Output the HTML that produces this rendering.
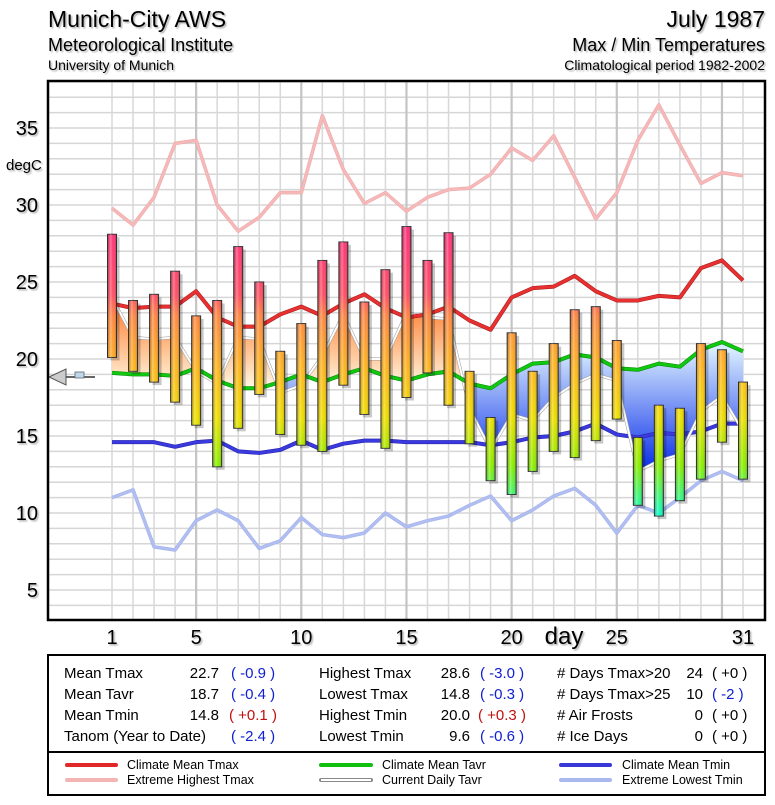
<!DOCTYPE html>
<html><head><meta charset="utf-8"><style>
body{margin:0;background:#fff;width:775px;height:800px;overflow:hidden;font-family:"Liberation Sans",Arial,sans-serif;}
svg text{font-family:"Liberation Sans",Arial,sans-serif;}
</style></head><body>
<svg id="chart" width="775" height="800" xmlns="http://www.w3.org/2000/svg">
<defs>
<filter id="ts" x="-10%" y="-10%" width="130%" height="140%"><feDropShadow dx="1.5" dy="1.5" stdDeviation="0.8" flood-color="#000" flood-opacity="0.3"/></filter>
<linearGradient id="barColor" gradientUnits="userSpaceOnUse" x1="0" y1="220" x2="0" y2="520">
<stop offset="0" stop-color="#ff2e7e"/><stop offset="0.25" stop-color="#ff5066"/><stop offset="0.32" stop-color="#ff8844"/><stop offset="0.5" stop-color="#ffb81e"/><stop offset="0.66" stop-color="#eee000"/><stop offset="0.82" stop-color="#88f000"/><stop offset="1" stop-color="#00ffdd"/></linearGradient>
<linearGradient id="barShade" x1="0" y1="0" x2="1" y2="0">
<stop offset="0" stop-color="#000" stop-opacity="0.2"/><stop offset="0.35" stop-color="#fff" stop-opacity="0.3"/><stop offset="0.6" stop-color="#fff" stop-opacity="0"/><stop offset="1" stop-color="#000" stop-opacity="0.25"/></linearGradient>
<linearGradient id="warmFill" gradientUnits="userSpaceOnUse" x1="0" y1="300" x2="0" y2="385">
<stop offset="0" stop-color="#ff7a2a"/><stop offset="1" stop-color="#fff4dc"/></linearGradient>
<linearGradient id="coolFill" gradientUnits="userSpaceOnUse" x1="0" y1="350" x2="0" y2="470">
<stop offset="0" stop-color="#d8ecff"/><stop offset="1" stop-color="#0a2ee8"/></linearGradient>
<clipPath id="aboveClip"><path id="aboveP"/></clipPath>
<clipPath id="belowClip"><path id="belowP"/></clipPath>
</defs>
<g filter="url(#ts)">
<text x="48" y="27" font-size="23">Munich-City AWS</text>
<text x="48" y="51" font-size="18">Meteorological Institute</text>
<text x="48" y="70" font-size="14">University of Munich</text>
<text x="765" y="27" font-size="23" text-anchor="end">July 1987</text>
<text x="765" y="51" font-size="18" text-anchor="end">Max / Min Temperatures</text>
<text x="765" y="70" font-size="14" text-anchor="end">Climatological period 1982-2002</text>
</g>
<g id="grid"></g>
<g id="areas"></g>
<g id="lines"></g>
<g id="bars"></g>
<g id="axes"></g>
<g>
<line x1="60" y1="377" x2="95" y2="377" stroke="#333" stroke-width="1.5"/>
<polygon points="49,377 66,369 66,385" fill="#ccc" stroke="#555" stroke-width="1"/>
<rect x="75" y="372" width="9" height="6" fill="#bcd8ee" stroke="#666" stroke-width="0.8"/>
</g>
<rect x="48" y="81" width="717" height="539" fill="none" stroke="#000" stroke-width="2.5"/>
<g font-size="15">
<rect x="48" y="655" width="717" height="97" fill="none" stroke="#000" stroke-width="2"/>
<rect x="48" y="752" width="717" height="43" fill="none" stroke="#000" stroke-width="2"/>
<text x="64" y="678">Mean Tmax</text><text x="219" y="678" text-anchor="end">22.7</text><text x="231" y="678" fill="#1020d0">( -0.9 )</text>
<text x="64" y="699">Mean Tavr</text><text x="219" y="699" text-anchor="end">18.7</text><text x="231" y="699" fill="#1020d0">( -0.4 )</text>
<text x="64" y="720">Mean Tmin</text><text x="219" y="720" text-anchor="end">14.8</text><text x="229" y="720" fill="#c01010">( +0.1 )</text>
<text x="64" y="741">Tanom (Year to Date)</text><text x="231" y="741" fill="#1020d0">( -2.4 )</text>
<text x="319" y="678">Highest Tmax</text><text x="470" y="678" text-anchor="end">28.6</text><text x="480" y="678" fill="#1020d0">( -3.0 )</text>
<text x="319" y="699">Lowest Tmax</text><text x="470" y="699" text-anchor="end">14.8</text><text x="480" y="699" fill="#1020d0">( -0.3 )</text>
<text x="319" y="720">Highest Tmin</text><text x="470" y="720" text-anchor="end">20.0</text><text x="478" y="720" fill="#c01010">( +0.3 )</text>
<text x="319" y="741">Lowest Tmin</text><text x="470" y="741" text-anchor="end">9.6</text><text x="480" y="741" fill="#1020d0">( -0.6 )</text>
<text x="557" y="678"># Days Tmax&gt;20</text><text x="703" y="678" text-anchor="end">24</text><text x="712" y="678">( +0 )</text>
<text x="557" y="699"># Days Tmax&gt;25</text><text x="703" y="699" text-anchor="end">10</text><text x="712" y="699" fill="#1020d0">( -2 )</text>
<text x="557" y="720"># Air Frosts</text><text x="703" y="720" text-anchor="end">0</text><text x="712" y="720">( +0 )</text>
<text x="557" y="741"># Ice Days</text><text x="703" y="741" text-anchor="end">0</text><text x="712" y="741">( +0 )</text>
</g>
<g font-size="12.5">
<g><line x1="67" y1="765" x2="116" y2="765" stroke="#e02828" stroke-width="4" stroke-linecap="round"/><text x="127" y="769">Climate Mean Tmax</text></g>
<g><line x1="67" y1="780" x2="116" y2="780" stroke="#f4b4b4" stroke-width="4" stroke-linecap="round"/><text x="127" y="784">Extreme Highest Tmax</text></g>
<g><line x1="321" y1="765" x2="371" y2="765" stroke="#10c010" stroke-width="4" stroke-linecap="round"/><text x="382" y="769">Climate Mean Tavr</text></g>
<g><line x1="321" y1="780" x2="371" y2="780" stroke="#888" stroke-width="4" stroke-linecap="round"/><line x1="321" y1="780" x2="371" y2="780" stroke="#fff" stroke-width="2"/><text x="382" y="784">Current Daily Tavr</text></g>
<g><line x1="561" y1="765" x2="610" y2="765" stroke="#3838d8" stroke-width="4" stroke-linecap="round"/><text x="622" y="769">Climate Mean Tmin</text></g>
<g><line x1="561" y1="780" x2="610" y2="780" stroke="#aab8f0" stroke-width="4" stroke-linecap="round"/><text x="622" y="784">Extreme Lowest Tmin</text></g>
</g>
</svg>
<script>
const days = [1,2,3,4,5,6,7,8,9,10,11,12,13,14,15,16,17,18,19,20,21,22,23,24,25,26,27,28,29,30,31];
const tmax = [28.1,23.8,24.2,25.7,22.8,23.8,27.3,25.0,20.5,22.3,26.4,27.6,23.7,25.8,28.6,26.4,28.2,19.2,16.2,21.7,19.2,21.0,23.2,23.4,21.2,14.9,17.0,16.8,21.0,20.6,18.5];
const tmin = [20.1,19.2,18.5,17.2,15.7,13.0,15.5,17.7,15.1,14.4,14.0,18.3,16.4,14.2,17.5,19.1,17.0,14.5,12.1,11.2,12.7,14.0,13.6,14.7,16.1,10.5,9.8,10.8,12.2,14.6,12.2];
const tavr = [24.0,21.4,21.3,21.4,19.2,18.4,21.4,21.3,17.8,18.3,20.2,22.9,20.0,20.0,23.0,22.7,22.6,16.8,14.1,16.4,16.0,17.5,18.4,19.0,18.6,12.7,13.4,13.8,16.6,17.6,15.3];
const climMax = [23.6,23.3,23.4,23.4,24.4,22.7,22.1,22.1,22.9,23.4,22.8,23.6,24.2,23.3,22.7,22.9,23.4,22.5,21.9,24.0,24.6,24.7,25.4,24.4,23.8,23.8,24.1,24.0,25.9,26.4,25.1];
const climAvr = [19.1,19.0,19.0,18.9,19.4,18.6,18.1,18.1,18.5,19.0,18.5,19.0,19.4,18.9,18.6,19.0,19.2,18.4,18.1,19.0,19.7,19.8,20.3,20.1,19.4,19.3,19.7,19.5,20.6,21.1,20.5];
const climMin = [14.6,14.6,14.6,14.3,14.6,14.7,14.0,13.9,14.1,14.7,14.1,14.5,14.7,14.7,14.6,14.6,14.6,14.6,14.4,14.6,14.9,15.0,15.3,15.8,15.1,14.9,15.2,15.1,15.3,15.8,15.8];
const extMax = [29.8,28.7,30.5,34.0,34.2,30.0,28.3,29.2,30.8,30.8,35.8,32.3,30.1,30.8,29.6,30.5,31.0,31.1,32.0,33.7,32.9,34.5,31.8,29.1,30.8,34.2,36.5,33.9,31.4,32.1,31.9];
const extMin = [11.0,11.5,7.8,7.6,9.5,10.2,9.5,7.7,8.2,9.7,8.6,8.4,8.7,10.0,9.1,9.5,9.8,10.5,11.1,9.5,10.2,11.1,11.6,10.5,8.7,10.5,10.0,11.0,12.1,12.7,12.1];
const yTicks = [5,10,15,20,25,30,35];
const xTicks = [1,5,10,15,20,25,31];

const NS='http://www.w3.org/2000/svg';
const X0=112, DX=(743-112)/30, Y35=128, DY=15.4;
const xs=d=>X0+(d-1)*DX;
const ys=v=>Y35+(35-v)*DY;
const PL=48, PR=765, PT=81, PB=620;
function mk(tag,attrs,parent){const e=document.createElementNS(NS,tag);for(const k in attrs)e.setAttribute(k,attrs[k]);parent.appendChild(e);return e;}
const grid=document.getElementById('grid');
for(let v=3;v<=38;v++){const y=ys(v);if(y<PT||y>PB)continue;
 const l=mk('line',{x1:PL,x2:PR,y1:y,y2:y,stroke:'#d6d6d6','stroke-width':1.5},grid);
 
 }
for(let d=1;d<=31;d++){const x=xs(d);const major=(d%5===0);
 const l=mk('line',{x1:x,x2:x,y1:PT,y2:PB,stroke:major?'#c4c4c4':'#d8d8d8','stroke-width':major?2.2:1.5},grid);
 
 }
const pts=a=>days.map((d,i)=>xs(d)+','+ys(a[i]));
const avrLine=pts(climAvr);
document.getElementById('aboveP').setAttribute('d','M'+avrLine.join('L')+`L${xs(31)},${PT}L${xs(1)},${PT}Z`);
document.getElementById('belowP').setAttribute('d','M'+avrLine.join('L')+`L${xs(31)},${PB}L${xs(1)},${PB}Z`);
const areaD='M'+pts(tavr).join('L')+'L'+avrLine.slice().reverse().join('L')+'Z';
const areas=document.getElementById('areas');
const wa=mk('path',{d:areaD,fill:'url(#warmFill)','clip-path':'url(#aboveClip)'},areas);


const ca=mk('path',{d:areaD,fill:'url(#coolFill)','clip-path':'url(#belowClip)'},areas);


const lines=document.getElementById('lines');
function poly(arr,color,w,name,edge){
 if(edge){const e=mk('polyline',{points:pts(arr).join(' '),fill:'none',stroke:edge,'stroke-width':w+1,'stroke-linejoin':'round'},lines);
  
  }
 const p=mk('polyline',{points:pts(arr).join(' '),fill:'none',stroke:color,'stroke-width':w,'stroke-linejoin':'round'},lines);
 
 }
poly(extMax,'#f6b8b8',2.5,'extreme-highest-tmax-line','#eaa8a8');
poly(extMin,'#b0bef2',2.5,'extreme-lowest-tmin-line','#a0aee8');
poly(climMin,'#3a3ae0',3,'climate-mean-tmin-line','#2020a0');
poly(tavr,'#ffffff',2,'current-daily-tavr-line','#999');
poly(climAvr,'#10c810',3,'climate-mean-tavr-line','#088008');
poly(climMax,'#e83030',3,'climate-mean-tmax-line','#a01818');
const bars=document.getElementById('bars');
days.forEach((d,i)=>{const x=xs(d)-4.5,y1=ys(tmax[i]),y2=ys(tmin[i]);
 const g=mk('g',{},bars);
 
 
 mk('rect',{x:x+3,y:y1+3,width:9,height:y2-y1,fill:'#000','fill-opacity':0.22},g);
 mk('rect',{x:x,y:y1,width:9,height:y2-y1,fill:'url(#barColor)',stroke:'#333','stroke-width':1},g);
 mk('rect',{x:x,y:y1,width:9,height:y2-y1,fill:'url(#barShade)'},g);
});
const axes=document.getElementById('axes');
yTicks.forEach(v=>{const t=mk('text',{x:38,y:ys(v)+7,'font-size':20,'text-anchor':'end',filter:'url(#ts)'},axes);t.textContent=v;
 
 });
xTicks.forEach(d=>{const t=mk('text',{x:xs(d),y:644,'font-size':20,'text-anchor':'middle',filter:'url(#ts)'},axes);t.textContent=d;
 
 });
const yt=mk('text',{x:6,y:170,'font-size':15,filter:'url(#ts)'},axes);yt.textContent='degC';


const xt=mk('text',{x:564,y:644,'font-size':24,'text-anchor':'middle',filter:'url(#ts)'},axes);xt.textContent='day';


</script>
</body></html>
